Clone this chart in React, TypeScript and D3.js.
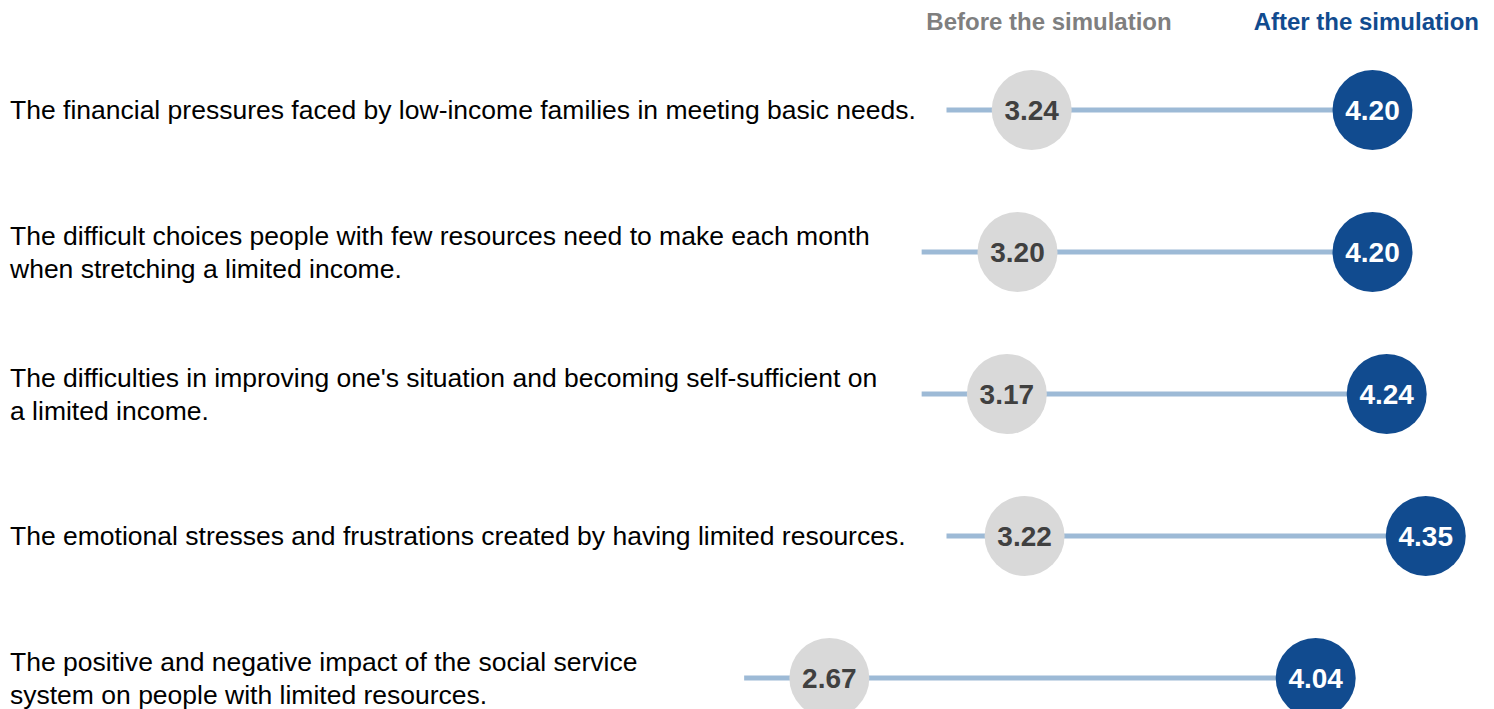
import { useEffect, useRef } from 'react';
import * as d3 from 'd3';

// statements, each split in the lines shown on the chart
const statements: string[][] = [
  ['The financial pressures faced by low-income families in meeting basic needs.'],
  [
    'The difficult choices people with few resources need to make each month',
    'when stretching a limited income.',
  ],
  [
    "The difficulties in improving one's situation and becoming self-sufficient on",
    'a limited income.',
  ],
  ['The emotional stresses and frustrations created by having limited resources.'],
  [
    'The positive and negative impact of the social service',
    'system on people with limited resources.',
  ],
];

const before = [3.24, 3.2, 3.17, 3.22, 2.67];
const after = [4.2, 4.2, 4.24, 4.35, 4.04];
// where the connector line begins, in score units
const lineStart = [3.0, 2.93, 2.93, 3.0, 2.43];

const seriesNames = ['Before the simulation', 'After the simulation'];

const App = () => {
  const svgRef = useRef<SVGSVGElement>(null);

  useEffect(() => {
    const width = 1494;
    const height = 709;
    const font = '"Liberation Sans", Arial, sans-serif';
    const r = 40;

    const svg = d3.select(svgRef.current).attr('width', width).attr('height', height);
    svg.selectAll('*').remove();

    const x = d3.scaleLinear().domain([2.5, 4.5]).range([769, 1479]);
    const y = d3
      .scalePoint<number>()
      .domain(d3.range(statements.length))
      .range([110, 678]);

    // headers
    svg
      .append('text')
      .attr('x', 1049)
      .attr('y', 30)
      .attr('text-anchor', 'middle')
      .style('font-family', font)
      .style('font-weight', 'bold')
      .style('font-size', '24px')
      .style('fill', '#7f7f7f')
      .text(seriesNames[0]);

    svg
      .append('text')
      .attr('x', x(4.5))
      .attr('y', 30)
      .attr('text-anchor', 'end')
      .style('font-family', font)
      .style('font-weight', 'bold')
      .style('font-size', '24px')
      .style('fill', '#114b8f')
      .text(seriesNames[1]);

    const row = svg
      .selectAll('g.row')
      .data(statements)
      .join('g')
      .attr('class', 'row')
      .attr('transform', (_, i) => `translate(0,${y(i)})`);

    const lineH = 33;
    row
      .append('text')
      .style('font-family', font)
      .style('font-size', '26.5px')
      .style('fill', '#000')
      .each(function (lines) {
        const t = d3.select(this);
        const off = -((lines.length - 1) * lineH) / 2;
        lines.forEach((ln, k) => {
          t.append('tspan')
            .attr('x', 10)
            .attr('y', off + k * lineH)
            .attr('dy', '0.35em')
            .text(ln);
        });
      });

    row
      .append('line')
      .attr('x1', (_, i) => x(lineStart[i]))
      .attr('x2', (_, i) => x(after[i]))
      .attr('y1', 0)
      .attr('y2', 0)
      .attr('stroke', '#9dbad6')
      .attr('stroke-width', 5);

    row
      .append('circle')
      .attr('cx', (_, i) => x(before[i]))
      .attr('cy', 0)
      .attr('r', r)
      .attr('fill', '#d9d9d9');

    row
      .append('text')
      .attr('x', (_, i) => x(before[i]))
      .attr('y', 0)
      .attr('dy', '0.36em')
      .attr('text-anchor', 'middle')
      .style('font-family', font)
      .style('font-weight', 'bold')
      .style('font-size', '28px')
      .style('fill', '#404040')
      .text((_, i) => before[i].toFixed(2));

    row
      .append('circle')
      .attr('cx', (_, i) => x(after[i]))
      .attr('cy', 0)
      .attr('r', r)
      .attr('fill', '#114b8f');

    row
      .append('text')
      .attr('x', (_, i) => x(after[i]))
      .attr('y', 0)
      .attr('dy', '0.36em')
      .attr('text-anchor', 'middle')
      .style('font-family', font)
      .style('font-weight', 'bold')
      .style('font-size', '28px')
      .style('fill', '#fff')
      .text((_, i) => after[i].toFixed(2));
  }, []);

  return (
    <div style={{ position: 'absolute', left: 0, top: 0 }}>
      <svg ref={svgRef} style={{ display: 'block' }}></svg>
    </div>
  );
};

export default App;
